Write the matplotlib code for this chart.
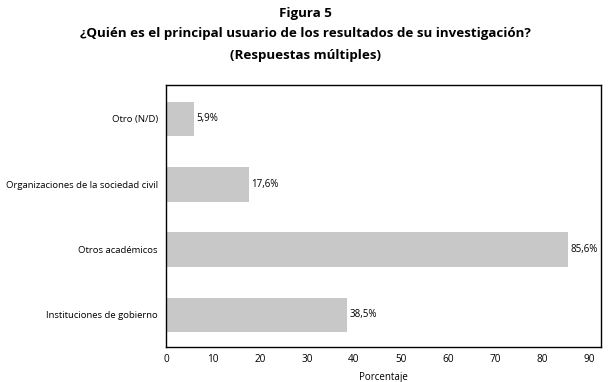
import matplotlib.pyplot as plt

# datos
categorias = ['Instituciones de gobierno', 'Otros académicos',
              'Organizaciones de la sociedad civil', 'Otro (N/D)']
valores = [38.5, 85.6, 17.6, 5.9]
etiquetas = ['38,5%', '85,6%', '17,6%', '5,9%']
ticks_x = [0, 10, 20, 30, 40, 50, 60, 70, 80, 90]

plt.rcParams['font.family'] = ['Open Sans', 'DejaVu Sans']

fig = plt.figure(figsize=(6.1, 3.82), dpi=100)
ax = fig.add_axes([166/610, 1-347/382, 435/610, 262/382])

y = range(len(categorias))
ax.barh(y, valores, height=0.53, color='#c8c8c8')
for yi, v, t in zip(y, valores, etiquetas):
    ax.text(v + 0.6, yi, t, va='center', ha='left', fontsize=7)

ax.set_xlim(0, 92.6)
ax.set_ylim(-0.49, 3.52)
ax.set_yticks(list(y))
ax.set_yticklabels(categorias, fontsize=6.8)
ax.set_xticks(ticks_x)
ax.set_xticklabels([str(t) for t in ticks_x], fontsize=7.2)
ax.tick_params(axis='x', length=0, pad=5)
ax.tick_params(axis='y', length=0, pad=6)
for s in ax.spines.values():
    s.set_linewidth(1.0)
ax.set_xlabel('Porcentaje', fontsize=7, labelpad=5)

fig.text(0.5, 1-13/382, 'Figura 5', ha='center', va='center', fontsize=9.6, fontweight='bold')
fig.text(0.5, 1-34/382, '¿Quién es el principal usuario de los resultados de su investigación?',
         ha='center', va='center', fontsize=9.6, fontweight='bold')
fig.text(0.5, 1-55/382, '(Respuestas múltiples)', ha='center', va='center',
         fontsize=9.6, fontweight='bold')

fig.savefig('out.png', dpi=100)
